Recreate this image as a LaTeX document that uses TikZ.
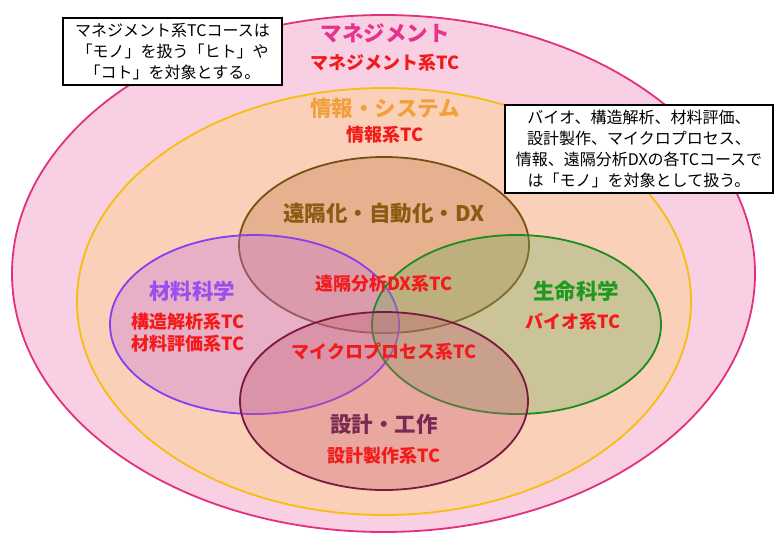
\documentclass[tikz,border=0pt]{standalone}
\usepackage{fontspec}
\setmainfont{Noto Sans CJK JP}
\definecolor{mgline}{HTML}{E3307E}
\definecolor{mgfill}{HTML}{F9D0E3}
\definecolor{mgtext}{HTML}{E8338C}
\definecolor{infline}{HTML}{F5BE10}
\definecolor{inffill}{HTML}{FBD0B8}
\definecolor{inftext}{HTML}{F2A03C}
\definecolor{dxline}{HTML}{7A4E12}
\definecolor{dxfill}{HTML}{C07840}
\definecolor{dxtext}{HTML}{8C5A12}
\definecolor{mtline}{HTML}{8A3CF2}
\definecolor{mtfill}{HTML}{C575E5}
\definecolor{mttext}{HTML}{9A50F0}
\definecolor{lfline}{HTML}{1C8C1C}
\definecolor{lffill}{HTML}{75AE61}
\definecolor{lftext}{HTML}{1E9A1E}
\definecolor{dsline}{HTML}{7A1842}
\definecolor{dsfill}{HTML}{C55E72}
\definecolor{dstext}{HTML}{7A2A52}
\definecolor{tcred}{HTML}{F21A1A}
\begin{document}
\begin{tikzpicture}[x=1pt,y=-1pt,
  title/.style={font=\fontsize{21.5}{24}\selectfont\bfseries, inner sep=0pt},
  tc/.style={font=\fontsize{18}{22}\selectfont\bfseries, text=tcred, inner sep=0pt, align=center},
  note/.style={draw=black, line width=1.8pt, fill=white, font=\fontsize{16}{21}\selectfont, align=center, inner sep=0pt},
  circ/.style={line width=1.8pt, fill opacity=0.35, draw opacity=1},
]
\useasboundingbox (0,0) rectangle (775,535);
\fill[white] (0,0) rectangle (775,535);
% outer sets
\draw[draw=mgline, fill=mgfill, line width=1.8pt] (383.5,273.5) ellipse [x radius=371.5, y radius=258.5];
\draw[draw=infline, fill=inffill, line width=1.8pt] (384,301.5) ellipse [x radius=307, y radius=213.5];
% inner sets
\draw[circ, draw=dxline, fill=dxfill] (384,245) ellipse [x radius=145, y radius=88];
\draw[circ, draw=mtline, fill=mtfill] (254.5,324.5) ellipse [x radius=144.5, y radius=89.5];
\draw[circ, draw=lfline, fill=lffill] (516.5,324.5) ellipse [x radius=144.5, y radius=89.5];
\draw[circ, draw=dsline, fill=dsfill] (384,401) ellipse [x radius=144, y radius=89];
% notes
\node[note, minimum width=219pt, minimum height=67pt] (noteA) at (172.5,51.5)
  {マネジメント系TCコースは\\「モノ」を扱う「ヒト」や\\「コト」を対象とする。};
\node[note, minimum width=268pt, minimum height=88pt] (noteB) at (639,149)
  {バイオ、構造解析、材料評価、\\設計製作、マイクロプロセス、\\情報、遠隔分析DXの各TCコースで\\は「モノ」を対象として扱う。};
% labels
\node[title, text=mgtext] (mgT) at (385,33) {マネジメント};
\node[tc] (mgC) at (385,63) {マネジメント系TC};
\node[title, text=inftext] (infT) at (385,108) {情報・システム};
\node[tc] (infC) at (385,135) {情報系TC};
\node[title, text=dxtext] (dxT) at (384,213) {遠隔化・自動化・DX};
\node[tc] (dxC) at (384,284) {遠隔分析DX系TC};
\node[title, text=mttext] (mtT) at (192,291) {材料科学};
\node[tc] (mtC) at (188,333) {構造解析系TC\\材料評価系TC};
\node[title, text=lftext] (lfT) at (576,291) {生命科学};
\node[tc] (lfC) at (573,322) {バイオ系TC};
\node[tc] (mpC) at (384,352) {マイクロプロセス系TC};
\node[title, text=dstext] (dsT) at (384,424) {設計・工作};
\node[tc] (dsC) at (384,456) {設計製作系TC};
\end{tikzpicture}
\end{document}
